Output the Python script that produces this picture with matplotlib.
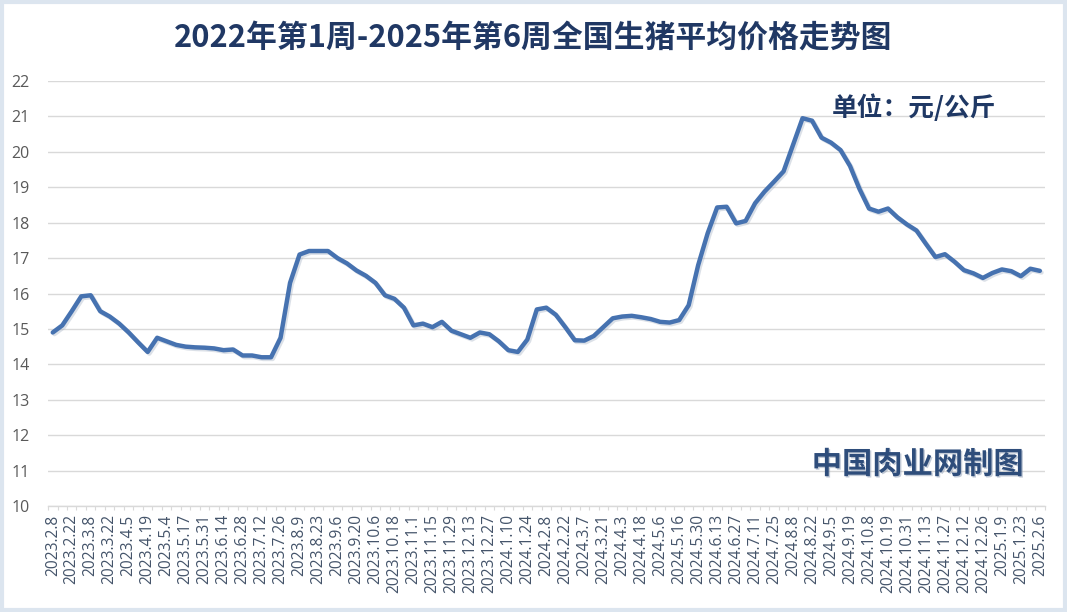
import matplotlib
matplotlib.use("Agg")
import matplotlib.pyplot as plt
import matplotlib.patheffects as pe
from matplotlib.patches import Rectangle
import numpy as np

plt.rcParams['font.family'] = ['Noto Sans CJK SC', 'DejaVu Sans']

# Weekly national average live hog price (yuan/kg), 2023.2.8 - 2025.2.6
prices = [
    14.90, 15.10, 15.50, 15.92, 15.95, 15.50, 15.35, 15.15, 14.90, 14.62,
    14.35, 14.75, 14.65, 14.55, 14.50, 14.48, 14.47, 14.45, 14.40, 14.42,
    14.25, 14.25, 14.20, 14.20, 14.75, 16.30, 17.10, 17.20, 17.20, 17.20,
    17.00, 16.85, 16.65, 16.50, 16.30, 15.95, 15.85, 15.60, 15.10, 15.15,
    15.05, 15.20, 14.95, 14.85, 14.75, 14.90, 14.85, 14.65, 14.40, 14.35,
    14.70, 15.55, 15.60, 15.40, 15.05, 14.68, 14.67, 14.80, 15.05, 15.30,
    15.35, 15.37, 15.33, 15.28, 15.20, 15.18, 15.25, 15.67, 16.80, 17.70,
    18.43, 18.45, 17.98, 18.05, 18.55, 18.88, 19.16, 19.45, 20.20, 20.95,
    20.88, 20.40, 20.26, 20.05, 19.60, 18.95, 18.40, 18.31, 18.40, 18.15,
    17.95, 17.78, 17.40, 17.03, 17.11, 16.90, 16.66, 16.57, 16.44, 16.58,
    16.68, 16.63, 16.49, 16.70, 16.64,
]

# tick labels, one every two weeks
date_labels = [
    "2023.2.8", "2023.2.22", "2023.3.8", "2023.3.22", "2023.4.5", "2023.4.19",
    "2023.5.4", "2023.5.17", "2023.5.31", "2023.6.14", "2023.6.28", "2023.7.12",
    "2023.7.26", "2023.8.9", "2023.8.23", "2023.9.6", "2023.9.20", "2023.10.6",
    "2023.10.18", "2023.11.1", "2023.11.15", "2023.11.29", "2023.12.13",
    "2023.12.27", "2024.1.10", "2024.1.24", "2024.2.8", "2024.2.22", "2024.3.7",
    "2024.3.21", "2024.4.3", "2024.4.18", "2024.5.6", "2024.5.16", "2024.5.30",
    "2024.6.13", "2024.6.27", "2024.7.11", "2024.7.25", "2024.8.8", "2024.8.22",
    "2024.9.5", "2024.9.19", "2024.10.8", "2024.10.19", "2024.10.31",
    "2024.11.13", "2024.11.27", "2024.12.12", "2024.12.26", "2025.1.9",
    "2025.1.23", "2025.2.6",
]

y_ticks = list(range(10, 23))

title = "2022年第1周-2025年第6周全国生猪平均价格走势图"
unit_text = "单位：元/公斤"
source_text = "中国肉业网制图"

fig = plt.figure(figsize=(10.67, 6.12), dpi=100)
fig.patch.set_facecolor("white")
ax = fig.add_axes([0.045, 0.1732, 0.934, 0.6944])

x = np.arange(len(prices))
ax.plot(x, prices, color="#4672B0", linewidth=3.2, solid_joinstyle="round",
        solid_capstyle="round",
        path_effects=[pe.SimpleLineShadow(offset=(1.2, -1.2), shadow_color="#9aa8bd", alpha=0.35),
                      pe.Normal()], zorder=3)

ax.set_xlim(-0.5, len(prices) - 0.5)
ax.set_ylim(10, 22)
ax.set_yticks(y_ticks)
ax.set_yticklabels([str(v) for v in y_ticks], family=['Open Sans', 'DejaVu Sans'],
                   fontsize=11.5, color="#595959")
ax.yaxis.grid(True, color="#D9D9D9", linewidth=1.0)
ax.set_axisbelow(True)
ax.tick_params(axis="y", length=0, pad=13)

tick_pos = np.arange(0, len(prices), 2)[:len(date_labels)]
ax.set_xticks(tick_pos)
ax.set_xticklabels(date_labels, rotation=90, fontsize=11.2, color="#44546A",
                   family=['Open Sans', 'DejaVu Sans'])
ax.set_xticks(np.arange(-0.5, len(prices), 1), minor=True)
ax.tick_params(axis="x", which="major", length=0, pad=6)
ax.tick_params(axis="x", which="minor", length=3, color="#D9D9D9", width=0.8)

for s in ["top", "right", "left"]:
    ax.spines[s].set_visible(False)
ax.spines["bottom"].set_color("#D9D9D9")
ax.spines["bottom"].set_linewidth(1.0)

fig.text(0.5, 0.938, title, ha="center", va="center", fontsize=22.2,
         fontweight="bold", color="#203864")
fig.text(0.857, 0.823, unit_text, ha="center", va="center", fontsize=18.5,
         fontweight="bold", color="#1F3864")
fig.text(0.86, 0.241, source_text, ha="center", va="center", fontsize=21.8,
         fontweight="bold", color="#2E4D7B",
         path_effects=[pe.withSimplePatchShadow(offset=(1, -1), shadow_rgbFace="#8a9ab3", alpha=0.5)])

fig.patches.append(Rectangle((0.002, 0.003), 0.996, 0.994, transform=fig.transFigure,
                             fill=False, edgecolor="#DCE5EF", linewidth=3))

fig.savefig("out.png", dpi=100, facecolor="white")
